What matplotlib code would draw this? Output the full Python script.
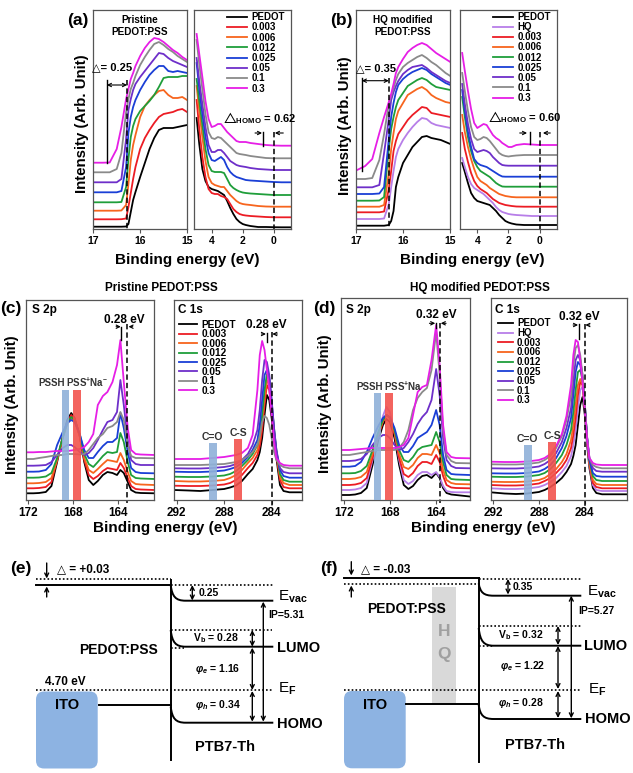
import matplotlib
matplotlib.use('Agg')
import matplotlib.pyplot as plt
from matplotlib.path import Path
from matplotlib.patches import PathPatch, FancyBboxPatch, Rectangle

plt.rcParams['font.family'] = ['Liberation Sans', 'DejaVu Sans']
plt.rcParams['font.weight'] = 'bold'
plt.rcParams['mathtext.fontset'] = 'custom'
plt.rcParams['mathtext.rm'] = 'Liberation Sans:bold'
plt.rcParams['mathtext.it'] = 'Liberation Sans:italic:bold'
plt.rcParams['mathtext.bf'] = 'Liberation Sans:bold'
plt.rcParams['mathtext.fallback'] = 'stixsans'
plt.rcParams['axes.unicode_minus'] = False

# ---------------- data ----------------
LAB_A = ['PEDOT', '0.003', '0.006', '0.012', '0.025', '0.05', '0.1', '0.3']
LAB_B = ['PEDOT', 'HQ', '0.003', '0.006', '0.012', '0.025', '0.05', '0.1', '0.3']
COL = {'PEDOT': '#000000', 'HQ': '#b77ee8', '0.003': '#ec1c24', '0.006': '#f7651e',
       '0.012': '#1f9e3a', '0.025': '#1a3fd6', '0.05': '#6e2fc9', '0.1': '#8a8a8a',
       '0.3': '#e61ee6'}

CUT_X = [17.0, 16.8, 16.65, 16.5, 16.4, 16.3, 16.25, 16.2, 16.15, 16.1, 16.0, 15.9,
         15.8, 15.7, 15.6, 15.5, 15.4, 15.3, 15.2, 15.1, 15.0]
VAL_X = [4.97, 4.8, 4.6, 4.4, 4.2, 4.0, 3.8, 3.6, 3.4, 3.2, 3.0, 2.8, 2.6, 2.4, 2.2,
         2.0, 1.8, 1.5, 1.0, 0.5, 0.0, -0.5, -1.1]

a_cut_pedot = [2.3, 2.3, 2.3, 2.3, 2.3, 2.5, 5, 17, 29, 37, 52, 66, 80, 91, 99, 101, 101, 101, 102, 103, 104]
a_cut_003 = [9.7, 9.7, 9.7, 9.7, 9.8, 10.5, 22, 36, 50, 62, 80, 91, 99, 106, 112, 115, 116, 117, 119, 120, 117]
a_cut_006 = [18.3, 18.3, 18.3, 18.3, 18.5, 24, 45, 69, 84, 94, 112, 123, 129, 134, 138, 139, 134, 131, 131, 132, 129]
a_cut_012 = [26.7, 26.7, 26.7, 26.7, 27, 42, 70, 92, 103, 110, 118, 123, 128, 134, 142, 151, 152, 152, 152, 153, 153]
a_cut_025 = [36.7, 36.7, 36.7, 36.7, 38, 62, 96, 112, 122, 129, 139, 147, 154, 159, 163, 163, 158, 157, 158, 157, 156]
a_cut_05 = [46.7, 46.7, 46.7, 46.7, 50, 90, 119, 130, 139, 145, 152, 158, 164, 170, 176, 175, 171, 168, 166, 164, 162]
a_cut_1 = [56.7, 56.7, 56.7, 60, 76, 117, 130, 140, 146, 153, 164, 172, 179, 185, 187, 184, 180, 177, 173, 170, 167]
a_cut_3 = [66.3, 66.3, 66.5, 80, 102, 130, 140, 150, 156, 163, 173, 181, 187, 191, 190, 187, 183, 179, 176, 172, 169]

a_val_pedot = [111, 85, 60, 48, 42, 40, 39, 38, 36, 34, 28, 21, 15, 10, 7, 5, 4, 3, 2, 2, 1.8, 1.7, 1.7]
a_val_003 = [129, 100, 72, 52, 40, 36, 35, 35, 33, 32, 30, 25, 20, 17, 15, 14, 13.5, 13, 12.5, 12, 11.7, 11.7, 11.7]
a_val_006 = [143, 118, 92, 68, 52, 46, 44, 43, 42, 42, 38, 34, 31, 28, 26, 25, 24.5, 24, 23, 22.5, 22.3, 22.3, 22.3]
a_val_012 = [150, 128, 104, 80, 64, 58, 57, 57, 57, 56, 50, 44, 41, 39, 37.5, 36.5, 36, 35.5, 35, 34.5, 34, 34, 34]
a_val_025 = [166, 140, 115, 92, 76, 69, 68, 70, 72, 69, 62, 57, 54, 52, 51, 50, 49, 48.5, 48, 47.5, 47, 46.7, 46.7]
a_val_05 = [171, 148, 125, 102, 84, 77, 77, 79, 79, 76, 72, 68, 66, 64, 63, 62.5, 62, 61, 60, 59.5, 59, 59, 59]
a_val_1 = [189, 165, 140, 115, 97, 91, 90, 92, 91, 88, 85, 82, 79, 76, 75, 74.5, 74, 73, 72, 71, 70.7, 70.7, 70.7]
a_val_3 = [195, 175, 152, 128, 110, 102, 103, 105, 105, 101, 97, 94, 91, 88, 87, 87, 87, 86, 85, 84, 83.5, 83.3, 83.3]

b_cut_pedot = [3.3, 3.3, 3.3, 3.3, 3.3, 4, 8, 18, 42, 52, 66, 74, 82, 87, 92, 93, 91, 90, 89, 87, 85]
b_cut_hq = [10, 10, 10, 10, 10.5, 25, 42, 58, 72, 80, 89, 96, 102, 107, 111, 110, 106, 104, 103, 102, 101]
b_cut_003 = [16.7, 16.7, 16.7, 16.7, 17.5, 40, 58, 78, 88, 95, 102, 109, 114, 118, 122, 121, 116, 115, 114, 113, 112]
b_cut_006 = [22.3, 22.3, 22.3, 22.3, 24, 56, 80, 96, 110, 118, 126, 134, 137, 140, 142, 139, 134, 131, 129, 127, 126]
b_cut_012 = [28.3, 28.3, 28.3, 28.5, 32, 80, 100, 112, 122, 129, 136, 143, 146, 149, 151, 149, 145, 142, 141, 140, 139]
b_cut_025 = [35, 35, 35, 35.5, 42, 90, 112, 126, 137, 144, 150, 154, 157, 159, 161, 159, 155, 152, 149, 146, 144]
b_cut_05 = [41.7, 41.7, 41.7, 44, 76, 110, 129, 137, 143, 148, 155, 159, 162, 163, 164, 161, 157, 154, 151, 148, 146]
b_cut_1 = [50, 50, 51, 69, 95, 125, 133, 141, 149, 155, 162, 166, 169, 172, 174, 171, 167, 164, 160, 156, 153]
b_cut_3 = [58.3, 63, 70, 96, 112, 127, 135, 145, 156, 162, 170, 177, 181, 184, 186, 184, 180, 176, 173, 170, 167]

b_val_pedot = [66, 57, 46, 36, 31, 28, 27, 26, 25, 24, 21, 18, 14, 11, 8, 6.5, 5.5, 4.5, 4, 4, 4, 4, 4]
b_val_hq = [71, 62, 52, 45, 41, 39, 37, 35, 32, 29, 26, 22, 19, 17, 16, 15, 14.5, 14, 13.5, 13, 13, 13, 13]
b_val_003 = [96, 80, 67, 56, 48, 43, 40, 38, 36, 33, 30, 28, 26, 25, 24, 23.5, 23, 22.5, 22.3, 22.3, 22.3, 22.3, 22.3]
b_val_006 = [114, 97, 82, 70, 60, 52, 48, 46, 44, 41, 39, 37, 35, 34, 33, 32.5, 32, 31.7, 31.7, 31.7, 31.7, 31.7, 31.7]
b_val_012 = [132, 112, 92, 78, 68, 62, 58, 56, 54, 52, 49, 46, 44, 42.5, 42.3, 42.3, 42.3, 42.3, 42.3, 42.3, 42.3, 42.3, 42.3]
b_val_025 = [139, 118, 97, 82, 70, 66, 64, 63, 62, 60, 58, 56, 54, 52.5, 52.3, 52.3, 52.3, 52.3, 52.3, 52.3, 52.3, 52.3, 52.3]
b_val_05 = [145, 125, 105, 90, 80, 77, 78, 79, 78, 76, 72, 69, 66, 64, 63.5, 63.3, 63.3, 63.3, 63.3, 63.3, 63.3, 63.3, 63.3]
b_val_1 = [156, 138, 118, 102, 92, 89, 90, 92, 91, 88, 84, 80, 76, 74, 73, 72.5, 73, 73.5, 74, 74, 74, 74, 74]
b_val_3 = [176, 158, 138, 120, 106, 101, 103, 105, 104, 99, 94, 91, 89, 86, 84, 82, 82, 84, 85, 84.5, 84, 84, 84]

C_S_X = [172.2, 171.5, 171.0, 170.4, 169.9, 169.4, 168.9, 168.5, 168.15, 167.85, 167.4, 167.0, 166.6,
         166.2, 165.8, 165.35, 164.95, 164.5, 164.1, 163.8, 163.5, 163.15, 162.85, 162.45, 162.0, 160.8]
c_s_pedot = [6.7, 6.7, 7, 8, 14, 38, 63, 80, 87, 82, 64, 38, 20, 15, 19, 25, 28, 27, 25, 30, 27, 18, 10, 7.5, 7, 6.7]
c_s_003 = [11.7, 11.7, 12, 13, 18, 40, 63, 78, 85, 81, 64, 40, 25, 21, 24, 29, 32, 31, 30, 37, 32, 22, 14, 11, 10.5, 10]
c_s_006 = [16.7, 16.7, 17, 18, 22, 40, 62, 76, 82, 79, 64, 42, 30, 27, 31, 36, 40, 39, 38, 47, 40, 28, 19, 16, 15.5, 15]
c_s_012 = [22.3, 22.3, 22.5, 23.5, 27, 42, 63, 77, 83, 80, 66, 46, 36, 33, 38, 44, 48, 47, 48, 67, 58, 38, 25, 22, 21.5, 21]
c_s_025 = [28.3, 28.3, 28.5, 30, 36, 55, 68, 77, 80, 78, 66, 50, 42, 42, 48, 54, 58, 58, 62, 87, 72, 48, 32, 28, 27, 26.7]
c_s_05 = [34.3, 34.3, 34.5, 35, 38, 45, 52, 55, 55, 53, 48, 45, 47, 52, 60, 70, 78, 80, 88, 120, 95, 60, 40, 36, 35, 35]
c_s_1 = [41, 41, 42, 43, 44, 45, 45, 46, 46, 46, 45.5, 46, 50, 56, 62, 66, 72, 74, 78, 88, 80, 55, 44, 42, 42, 41.7]
c_s_3 = [47.7, 47.7, 48, 48, 48.5, 49, 49, 49, 49.5, 50, 51, 53, 58, 66, 95, 104, 108, 118, 135, 160, 118, 72, 50, 46, 45.5, 45]

C_C_X = [292.2, 291, 290, 289, 288, 287.5, 287, 286.5, 286, 285.6, 285.2, 285.0, 284.8, 284.6, 284.4,
         284.2, 284.0, 283.8, 283.6, 283.3, 283.0, 282.5, 281.5]
c_c_pedot = [10, 9.5, 9, 10, 11, 12.5, 14.5, 19, 26, 31, 40, 48, 62, 85, 105, 100, 82, 60, 42, 15, 9, 7.7, 7.7]
c_c_003 = [14.3, 14, 14, 14.5, 15.5, 17, 20, 25, 32, 37, 45, 54, 70, 95, 115, 110, 90, 65, 45, 20, 13, 11.7, 11.7]
c_c_006 = [19, 18.5, 18.5, 19, 20, 22, 25, 30, 37, 42, 50, 60, 78, 102, 120, 115, 94, 68, 48, 23, 17, 15, 15]
c_c_012 = [23.3, 23, 23, 23.5, 24.5, 26, 29, 34, 40, 46, 55, 66, 85, 110, 126, 120, 98, 72, 50, 26, 20, 18.3, 18.3]
c_c_025 = [28.3, 28, 28, 28.5, 29.5, 31, 33, 37, 43, 50, 60, 75, 100, 125, 130, 122, 98, 70, 48, 30, 24, 22.3, 22.3]
c_c_05 = [31.7, 31.5, 31.5, 32, 33, 34, 36, 40, 46, 55, 70, 90, 120, 140, 138, 125, 100, 72, 50, 32, 28, 26.7, 26.7]
c_c_1 = [35, 35, 35, 35.5, 36, 37, 38, 40, 44, 48, 55, 64, 78, 84, 82, 75, 62, 48, 40, 35, 33, 31.7, 31.7]
c_c_3 = [41, 41, 41, 42, 43, 44, 45, 47, 52, 65, 110, 145, 159, 150, 130, 112, 85, 58, 42, 37, 35, 34.3, 34.3]

D_S_X = [172.2, 171.5, 171.0, 170.5, 170.0, 169.5, 169.0, 168.6, 168.3, 168.0, 167.6, 167.2, 166.8,
         166.4, 166.0, 165.6, 165.2, 164.8, 164.4, 164.0, 163.7, 163.4, 163.1, 162.7, 162.3, 161.1]
d_s_pedot = [5, 5, 5.5, 7, 12, 35, 60, 75, 81, 78, 62, 35, 15, 11, 14, 20, 24, 25, 22, 27, 22, 12, 7, 5.5, 5, 3.5]
d_s_hq = [10, 10, 10.5, 12, 17, 40, 65, 84, 93, 88, 68, 40, 20, 16, 19, 25, 28, 28, 25, 28, 23, 14, 9, 8, 7.7, 7.7]
d_s_003 = [15, 15, 15.5, 17, 22, 42, 64, 78, 85, 82, 66, 42, 26, 23, 27, 34, 38, 38, 36, 45, 38, 24, 15, 12.5, 12, 11.7]
d_s_006 = [21, 21, 21.5, 23, 28, 46, 66, 79, 85, 82, 68, 46, 33, 31, 35, 42, 46, 46, 45, 55, 47, 30, 20, 17, 16, 15.7]
d_s_012 = [26.7, 26.7, 27, 29, 34, 50, 68, 80, 85, 82, 70, 50, 40, 38, 43, 50, 53, 54, 55, 68, 58, 38, 25, 21, 20.5, 20]
d_s_025 = [33.3, 33.3, 34, 38, 48, 62, 74, 82, 85, 83, 72, 55, 48, 48, 54, 62, 65, 68, 75, 90, 75, 45, 30, 26, 25.5, 25]
d_s_05 = [39, 39, 39.5, 41, 46, 55, 62, 65, 65, 62, 55, 50, 52, 58, 66, 76, 83, 88, 100, 131, 105, 62, 40, 34, 32, 31.7]
d_s_1 = [45, 45, 46, 47, 48, 49, 50, 50, 50, 50, 50, 52, 58, 70, 90, 102, 108, 112, 130, 168, 125, 70, 45, 39, 37, 36.7]
d_s_3 = [50, 50, 50.5, 51, 51.5, 52, 52, 52, 52, 52, 52, 53, 55, 62, 85, 108, 113, 115, 140, 175, 135, 75, 48, 43, 42, 41.7]

D_C_X = [292.2, 291, 290, 289, 288, 287.5, 287, 286.5, 286, 285.6, 285.2, 285.0, 284.8, 284.6, 284.4,
         284.2, 284.0, 283.8, 283.6, 283.3, 283.0, 282.5, 280.3]
d_c_pedot = [7.7, 6.5, 6, 6.5, 8, 10, 13, 17, 22, 28, 36, 44, 55, 75, 95, 103, 85, 55, 32, 12, 7, 5.7, 5.7]
d_c_hq = [11.7, 11, 11, 11.5, 13, 15, 18, 22, 28, 34, 44, 55, 70, 92, 110, 113, 92, 60, 35, 15, 10, 9, 9]
d_c_003 = [15, 14.5, 14.5, 15, 16.5, 19, 22, 27, 33, 40, 52, 65, 82, 105, 118, 115, 92, 60, 36, 17, 13, 11.7, 11.7]
d_c_006 = [18.3, 18, 18, 18.5, 20, 22, 26, 31, 38, 46, 60, 75, 95, 115, 121, 116, 92, 60, 37, 20, 16, 15, 15]
d_c_012 = [23.3, 23, 23, 23.5, 25, 27, 31, 37, 45, 55, 70, 88, 110, 128, 130, 120, 95, 62, 40, 24, 20, 19, 19]
d_c_025 = [26.7, 26.5, 26.5, 27, 28.5, 31, 35, 42, 52, 64, 82, 105, 128, 138, 135, 122, 95, 62, 40, 27, 24, 23.3, 23.3]
d_c_05 = [31.7, 31.5, 31.5, 32, 33.5, 36, 40, 47, 58, 72, 92, 118, 140, 145, 140, 125, 96, 63, 42, 32, 29, 28.3, 28.3]
d_c_1 = [35.7, 35.5, 35.5, 36, 37.5, 40, 44, 52, 64, 80, 105, 135, 152, 155, 145, 125, 95, 62, 42, 35, 33, 31.7, 31.7]
d_c_3 = [38.3, 38, 38, 38.5, 40, 42, 46, 54, 66, 84, 115, 145, 160, 158, 140, 118, 90, 60, 42, 37, 35.5, 35, 35]

# energy diagram labels
E_LABELS = ['△ = +0.03', '0.25', 'IP=5.31', 'V$_{\\rm b}$ = 0.28', '$\\varphi_{e}$ = 1.16',
            '$\\varphi_{h}$ = 0.34', '4.70 eV']
F_LABELS = ['△ = -0.03', '0.35', 'IP=5.27', 'V$_{\\rm b}$ = 0.32', '$\\varphi_{e}$ = 1.22',
            '$\\varphi_{h}$ = 0.28']

# ---------------- figure ----------------
W, H = 633, 773
fig = plt.figure(figsize=(W / 100, H / 100), dpi=100)
SP = '#555555'


def box(x0, y0, x1, y1):
    return fig.add_axes([x0 / W, 1 - y1 / H, (x1 - x0) / W, (y1 - y0) / H])


def spectra(ax, x, ys, labels, xlim, ylim, ticks, tsize):
    lines = []
    for lab, y in zip(labels, ys):
        ln, = ax.plot(x, y, color=COL[lab], lw=1.3, solid_joinstyle='round')
        lines.append(ln)
    ax.set_xlim(*xlim)
    ax.set_ylim(*ylim)
    ax.set_xticks(ticks)
    ax.set_xticklabels([str(t) for t in ticks])
    ax.set_yticks([])
    ax.tick_params(axis='x', direction='out', length=3, width=0.8, color=SP,
                   labelsize=tsize, pad=2)
    for s in ax.spines.values():
        s.set_color(SP)
        s.set_linewidth(0.9)
    return lines


def arr(ax, x0, y0, x1, y1, style='->', ms=6, lw=0.8):
    ax.annotate('', xy=(x1, y1), xytext=(x0, y0), annotation_clip=False,
                arrowprops=dict(arrowstyle=style, lw=lw, color='k', shrinkA=0, shrinkB=0,
                                mutation_scale=ms))


def vline(ax, x, y0, y1, dashed=False):
    if dashed:
        ax.plot([x, x], [y0, y1], color='k', lw=1.1, dashes=(3.5, 2), clip_on=False)
    else:
        ax.plot([x, x], [y0, y1], color='k', lw=1.0, clip_on=False)


def legend(ax, lines, labels, anchor, size, hl, ls):
    ax.legend(lines, labels, loc='upper left', bbox_to_anchor=anchor, frameon=False,
              prop={'size': size, 'weight': 'bold'}, handlelength=hl, handletextpad=0.45,
              labelspacing=ls, borderpad=0, borderaxespad=0)


# (a)
ax = box(93.3, 10, 187, 229)
spectra(ax, CUT_X, [a_cut_pedot, a_cut_003, a_cut_006, a_cut_012, a_cut_025, a_cut_05, a_cut_1, a_cut_3],
        LAB_A, (17.0, 15.0), (0, 219), [17, 16, 15], 7.5)
vline(ax, 16.71, 149, 66.3)
vline(ax, 16.28, 149, 0, dashed=True)
arr(ax, 16.71, 144, 16.28, 144, '<->')
ax.text(17.02, 162, '△= 0.25', ha='left', va='center', fontsize=8, clip_on=False)
ax.text(16.0, 203, 'Pristine\nPEDOT:PSS', ha='center', va='center', fontsize=7.2, linespacing=1.15)

ax = box(194.3, 10, 290.7, 229)
ln = spectra(ax, VAL_X, [a_val_pedot, a_val_003, a_val_006, a_val_012, a_val_025, a_val_05, a_val_1, a_val_3],
             LAB_A, (5.12, -1.1), (0, 219), [4, 2, 0], 7.5)
vline(ax, 0.67, 97, 83)
vline(ax, 0.0, 97, 0, dashed=True)
arr(ax, 1.2, 96, 0.75, 96)
arr(ax, -0.62, 96, -0.08, 96)
ax.text(3.25, 110.7, '$\\bigtriangleup_{\\rm HOMO}$ = 0.62', ha='left', va='center', fontsize=8)
legend(ax, ln, LAB_A, (0.339, 0.99), 7, 2.05, 0.02)

# (b)
ax = box(355.7, 10, 450.3, 229)
spectra(ax, CUT_X, [b_cut_pedot, b_cut_hq, b_cut_003, b_cut_006, b_cut_012, b_cut_025, b_cut_05, b_cut_1, b_cut_3],
        LAB_B, (17.0, 15.0), (0, 219), [17, 16, 15], 7.5)
vline(ax, 16.87, 150.7, 58.3)
vline(ax, 16.3, 150.7, 0, dashed=True)
arr(ax, 16.87, 148.3, 16.3, 148.3, '<->')
ax.text(17.0, 160.7, '△= 0.35', ha='left', va='center', fontsize=8, clip_on=False)
ax.text(16.0, 203, 'HQ modified\nPEDOT:PSS', ha='center', va='center', fontsize=7.2, linespacing=1.15)

ax = box(460, 10, 557.3, 229)
ln = spectra(ax, VAL_X, [b_val_pedot, b_val_hq, b_val_003, b_val_006, b_val_012, b_val_025, b_val_05, b_val_1, b_val_3],
             LAB_B, (5.11, -1.13), (0, 219), [4, 2, 0], 7.5)
vline(ax, 0.64, 97, 85)
vline(ax, 0.0, 97, 0, dashed=True)
arr(ax, 1.28, 96, 0.81, 96)
arr(ax, -0.68, 96, -0.21, 96)
ax.text(3.32, 111.7, '$\\bigtriangleup_{\\rm HOMO}$ = 0.60', ha='left', va='center', fontsize=8)
legend(ax, ln, LAB_B, (0.339, 0.99), 7, 2.05, 0.01)

# (c)
ax = box(25.7, 300, 154.3, 500)
spectra(ax, C_S_X, [c_s_pedot, c_s_003, c_s_006, c_s_012, c_s_025, c_s_05, c_s_1, c_s_3],
        LAB_A, (172.18, 160.8), (0, 200), [172, 168, 164], 8.5)
ax.add_patch(Rectangle((168.31, 0), 0.68, 110, color='#8fb1d9', alpha=0.9, zorder=3, lw=0))
ax.add_patch(Rectangle((167.31, 0), 0.71, 110, color='#f2534e', alpha=0.9, zorder=3, lw=0))
ax.text(169.88, 117.3, 'PSSH', ha='center', va='center', fontsize=7, color='#333333')
ax.text(166.72, 117.3, 'PSS$^{+}$Na$^{-}$', ha='center', va='center', fontsize=7, color='#333333')
ax.text(163.47, 180, '0.28 eV', ha='center', va='center', fontsize=8.5)
vline(ax, 163.71, 173.3, 160)
vline(ax, 163.18, 176, -3, dashed=True)
arr(ax, 164.18, 173.3, 163.77, 173.3)
arr(ax, 162.71, 173.3, 163.08, 173.3)

ax = box(174, 300, 301.7, 500)
ln = spectra(ax, C_C_X, [c_c_pedot, c_c_003, c_c_006, c_c_012, c_c_025, c_c_05, c_c_1, c_c_3],
             LAB_A, (292.22, 281.47), (0, 200), [292, 288, 284], 8.5)
ax.add_patch(Rectangle((288.57, 0), 0.68, 56.7, color='#8fb1d9', alpha=0.9, zorder=3, lw=0))
ax.add_patch(Rectangle((286.47, 0), 0.67, 60.7, color='#f2534e', alpha=0.9, zorder=3, lw=0))
ax.text(288.97, 63, 'C=O', ha='center', va='center', fontsize=7.5, color='#333333')
ax.text(286.8, 67, 'C-S', ha='center', va='center', fontsize=7.5, color='#333333')
ax.text(284.42, 175, '0.28 eV', ha='center', va='center', fontsize=8.5)
vline(ax, 284.42, 167, 158)
vline(ax, 284.0, 168, -8, dashed=True)
arr(ax, 284.86, 166, 284.48, 166)
arr(ax, 283.52, 166, 283.94, 166)
legend(ax, ln, LAB_A, (0.039, 0.9), 7.3, 1.75, -0.06)

# (d)
ax = box(341.3, 298.3, 469.7, 500)
spectra(ax, D_S_X, [d_s_pedot, d_s_hq, d_s_003, d_s_006, d_s_012, d_s_025, d_s_05, d_s_1, d_s_3],
        LAB_B, (172.2, 161.1), (0, 201.7), [172, 168, 164], 8.5)
ax.add_patch(Rectangle((168.75, 0), 0.63, 107.3, color='#8fb1d9', alpha=0.9, zorder=3, lw=0))
ax.add_patch(Rectangle((167.74, 0), 0.66, 106.7, color='#f2534e', alpha=0.9, zorder=3, lw=0))
ax.text(169.78, 113.3, 'PSSH', ha='center', va='center', fontsize=7, color='#333333')
ax.text(166.88, 113.3, 'PSS$^{+}$Na', ha='center', va='center', fontsize=7, color='#333333')
ax.text(164.0, 185, '0.32 eV', ha='center', va='center', fontsize=8.5)
vline(ax, 164.0, 176.7, 172)
vline(ax, 163.65, 176.7, -3, dashed=True)
arr(ax, 164.58, 176.7, 164.08, 176.7)
arr(ax, 163.14, 176.7, 163.6, 176.7)

ax = box(490.7, 298.3, 627.3, 500)
ln = spectra(ax, D_C_X, [d_c_pedot, d_c_hq, d_c_003, d_c_006, d_c_012, d_c_025, d_c_05, d_c_1, d_c_3],
             LAB_B, (292.2, 280.3), (0, 201.7), [292, 288, 284], 8.5)
ax.add_patch(Rectangle((288.6, 0), 0.7, 55, color='#8fb1d9', alpha=0.9, zorder=3, lw=0))
ax.add_patch(Rectangle((286.48, 0), 0.69, 58.3, color='#f2534e', alpha=0.9, zorder=3, lw=0))
ax.text(289.0, 61, 'C=O', ha='center', va='center', fontsize=7.5, color='#333333')
ax.text(286.83, 64, 'C-S', ha='center', va='center', fontsize=7.5, color='#333333')
ax.text(284.44, 183.3, '0.32 eV', ha='center', va='center', fontsize=8.5)
vline(ax, 284.53, 176, 161)
vline(ax, 284.0, 176, -8, dashed=True)
arr(ax, 285.02, 175, 284.59, 175)
arr(ax, 283.57, 175, 283.95, 175)
legend(ax, ln, LAB_B, (0.053, 0.9), 7.0, 1.5, -0.04)

# ---------------- canvas (texts + energy diagrams) ----------------
cv = fig.add_axes([0, 0, 1, 1])
cv.set_xlim(0, W)
cv.set_ylim(H, 0)
cv.axis('off')
cv.patch.set_alpha(0)

T = dict(ha='center', va='center')
for x, s in [(78, '(a)'), (341, '(b)')]:
    cv.text(x, 20, s, fontsize=12.5, **T)
cv.text(0, 308, '(c)', ha='left', va='center', fontsize=12.5)
cv.text(313, 308, '(d)', ha='left', va='center', fontsize=12.5)
for x, y in [(187, 260), (472, 260), (165, 528), (483, 528)]:
    cv.text(x, y, 'Binding energy (eV)', fontsize=11, **T)
for x, y in [(82, 124), (344.5, 126), (12, 405), (325, 404)]:
    cv.text(x, y, 'Intensity (Arb. Unit)', rotation=90, fontsize=10.8, **T)
cv.text(161.7, 288, 'Pristine PEDOT:PSS', fontsize=8.5, **T)
cv.text(480, 288, 'HQ modified PEDOT:PSS', fontsize=8.5, **T)
for x, s in [(32, 'S 2p'), (178, 'C 1s'), (346, 'S 2p'), (495, 'C 1s')]:
    cv.text(x, 310, s, ha='left', va='center', fontsize=8.5)


def dot(x0, x1, y):
    cv.plot([x0, x1], [y, y], color='k', lw=1.2, dashes=(1, 1.3))


def solid(x0, x1, y):
    cv.plot([x0, x1], [y, y], color='k', lw=1.4)


def bend(x0, y0, y1, x_end):
    verts = [(x0, y0), (x0 + 1.5, y0 + 0.75 * (y1 - y0)), (x0 + 5, y1), (x0 + 15, y1), (x_end, y1)]
    codes = [Path.MOVETO, Path.CURVE4, Path.CURVE4, Path.CURVE4, Path.LINETO]
    cv.add_patch(PathPatch(Path(verts, codes), fc='none', ec='k', lw=1.4))


def darr(x, y0, y1):
    arr(cv, x, y0, x, y1, '<->', ms=7, lw=1.0)


# (e)
cv.text(10, 568, '(e)', ha='left', va='center', fontsize=12.5)
arr(cv, 46.7, 563, 46.7, 578.5, '->', ms=7, lw=1.0)
arr(cv, 46.7, 597, 46.7, 586.5, '->', ms=7, lw=1.0)
cv.text(57, 569.5, E_LABELS[0], ha='left', va='center', fontsize=8.5)
dot(36, 170.7, 579.3)
solid(36, 170.7, 585)
cv.plot([170.7, 170.7], [580, 760], color='k', lw=1.4)
dot(170.7, 273.3, 585)
bend(170.7, 585, 600.7, 273.3)
darr(192.3, 585, 600.5)
cv.text(199, 593, E_LABELS[1], ha='left', va='center', fontsize=7.5)
cv.text(278, 597, 'E$_{\\rm vac}$', ha='left', va='center', fontsize=11, fontweight='normal')
darr(263.3, 601.7, 721.7)
cv.text(268, 615, E_LABELS[2], ha='left', va='center', fontsize=7.5)
dot(170.7, 271.7, 630)
bend(170.7, 630, 646.7, 273.3)
dot(170.7, 184, 647.7)
cv.text(193, 638, E_LABELS[3], ha='left', va='center', fontsize=7.5)
darr(252.3, 630, 646.7)
cv.text(277, 647.7, 'LUMO', ha='left', va='center', fontsize=10.5)
cv.text(118.3, 650, 'PEDOT:PSS', fontsize=10, **T)
cv.text(195, 669, E_LABELS[4], ha='left', va='center', fontsize=7.5)
darr(252.3, 647.7, 690)
dot(36, 273.3, 690)
cv.text(45, 681.7, E_LABELS[6], ha='left', va='center', fontsize=8.5)
cv.text(278, 689, 'E$_{\\rm F}$', ha='left', va='center', fontsize=11, fontweight='normal')
cv.add_patch(FancyBboxPatch((40, 695.5), 53.7, 69, boxstyle='round,pad=4,rounding_size=8',
                            fc='#8db3e2', ec='none'))
cv.text(66.7, 705, 'ITO', fontsize=10.5, **T)
solid(99, 170.7, 705)
bend(170.7, 706.7, 722.7, 273.3)
cv.text(195, 705, E_LABELS[5], ha='left', va='center', fontsize=7.5)
darr(252.3, 691, 721.7)
cv.text(277, 724, 'HOMO', ha='left', va='center', fontsize=10.5)
cv.text(224.7, 746.7, 'PTB7-Th', fontsize=10.5, **T)

# (f)
cv.text(320, 568, '(f)', ha='left', va='center', fontsize=12.5)
arr(cv, 351.3, 561.7, 351.3, 575.5, '->', ms=7, lw=1.0)
arr(cv, 351.3, 597, 351.3, 585.5, '->', ms=7, lw=1.0)
cv.text(361, 569, F_LABELS[0], ha='left', va='center', fontsize=8.5)
solid(343.7, 478.7, 578.3)
dot(343.7, 478.7, 584)
cv.add_patch(Rectangle((432, 586.7), 23.7, 116.6, fc='#d9d9d9', ec='none'))
cv.text(443.7, 631.7, 'H', fontsize=12.5, color='#a0a0a0', **T)
cv.text(443.7, 655, 'Q', fontsize=12.5, color='#a0a0a0', **T)
cv.plot([478.7, 478.7], [578, 761.7], color='k', lw=1.4)
dot(478.7, 581.3, 579)
bend(478.7, 583.3, 595.7, 581.3)
darr(508, 579, 594.5)
cv.text(513, 586.7, F_LABELS[1], ha='left', va='center', fontsize=7.5)
cv.text(586.7, 592, 'E$_{\\rm vac}$', ha='left', va='center', fontsize=11, fontweight='normal')
darr(571.3, 595.7, 718.3)
cv.text(578, 611, F_LABELS[2], ha='left', va='center', fontsize=7.5)
cv.text(407, 609, 'PEDOT:PSS', fontsize=10, **T)
dot(478.7, 581.3, 626)
bend(478.7, 628, 645.7, 581.3)
dot(478.7, 494, 645.7)
cv.text(498, 635, F_LABELS[3], ha='left', va='center', fontsize=7.5)
darr(558, 626, 645)
cv.text(584, 645.7, 'LUMO', ha='left', va='center', fontsize=10.5)
cv.text(500, 665.7, F_LABELS[4], ha='left', va='center', fontsize=7.5)
darr(558, 646, 689)
dot(343.7, 580, 690)
cv.text(588, 690, 'E$_{\\rm F}$', ha='left', va='center', fontsize=11, fontweight='normal')
cv.add_patch(FancyBboxPatch((348, 695), 53.7, 69.3, boxstyle='round,pad=4,rounding_size=8',
                            fc='#8db3e2', ec='none'))
cv.text(374.7, 705, 'ITO', fontsize=10.5, **T)
solid(405.7, 478.7, 704)
bend(478.7, 705, 719, 581.3)
cv.text(498, 703.3, F_LABELS[5], ha='left', va='center', fontsize=7.5)
darr(558, 691, 718)
cv.text(585, 719, 'HOMO', ha='left', va='center', fontsize=10.5)
cv.text(535, 745, 'PTB7-Th', fontsize=10.5, **T)

fig.savefig('out.png', dpi=100)
